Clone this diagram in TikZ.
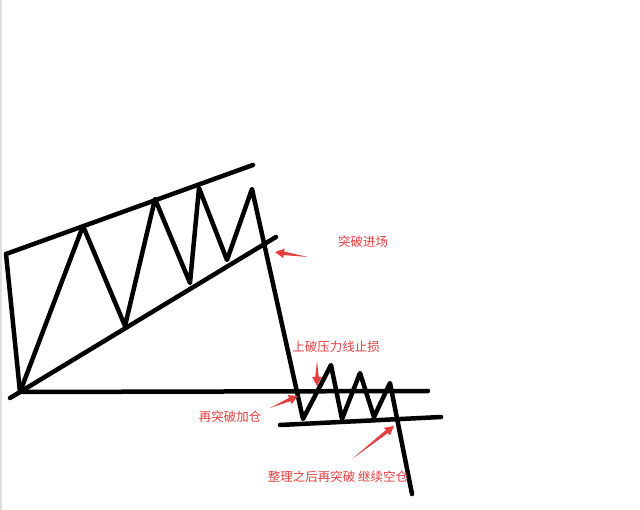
\documentclass[tikz,border=0pt]{standalone}
\usepackage{fontspec}
\newfontfamily\cjk{Noto Sans CJK SC}
\usetikzlibrary{calc}
\definecolor{notered}{RGB}{228,64,64}

% tapered brush arrow from #1 (tail) to #2 (head)
\newcommand{\taperarrow}[2]{%
    \fill[notered] (#1) -- ($($(#2)!9pt!(#1)$)!1.8pt!90:(#1)$)
        -- ($($(#2)!9pt!(#1)$)!4.8pt!90:(#1)$) -- (#2)
        -- ($($(#2)!9pt!(#1)$)!4.8pt!-90:(#1)$)
        -- ($($(#2)!9pt!(#1)$)!1.8pt!-90:(#1)$) -- cycle;%
}

\begin{document}
\begin{tikzpicture}[x=1pt,y=-1pt,
    pen/.style={line width=4.5pt, line join=round, line cap=round},
    note/.style={text=notered, font=\cjk\fontsize{12.5}{14}\selectfont, inner sep=0pt}]
    \useasboundingbox (0,0) rectangle (640,510);
    \fill[white] (0,0) rectangle (640,510);
    \draw[gray!25, line width=1.5pt] (1,0) -- (1,510);

    % Channel
    \draw[pen] (6,254) -- (253,165);
    \draw[pen] (20,392) -- (276,237);
    \draw[pen] (6,254) -- (20,392);
    \draw[pen] (10,398) -- (20,392) -- (428,391);

    % Price path
    \draw[pen] (20,392) -- (83,226) -- (125,326) -- (155,199) -- (190,283)
        -- (199,188) -- (227,260) -- (252,189) -- (303,419)
        -- (331,365) -- (342,419) -- (360,373) -- (374,417) -- (390,383)
        -- (412,494);

    % Consolidation floor
    \draw[pen] (280,425) -- (441,417);

    % Notes
    \node[note] (entry) at (363,242) {突破进场};
    \node[note] (stop) at (336,347) {上破压力线止损};
    \node[note] (add) at (230,417) {再突破加仓};
    \node[note] (hold) at (338,477) {整理之后再突破 继续空仓};

    % Pointers
    \coordinate (entryTail) at (308,257);
    \coordinate (entryHead) at (275,252);
    \coordinate (stopTail) at (317,361);
    \coordinate (stopHead) at (317,386);
    \coordinate (addTail) at (270,408);
    \coordinate (addHead) at (298,396);
    \coordinate (holdTail) at (352,459);
    \coordinate (holdHead) at (394,426);
    \foreach \p in {entry, stop, add, hold} {
        \taperarrow{\p Tail}{\p Head}
    }
\end{tikzpicture}
\end{document}
